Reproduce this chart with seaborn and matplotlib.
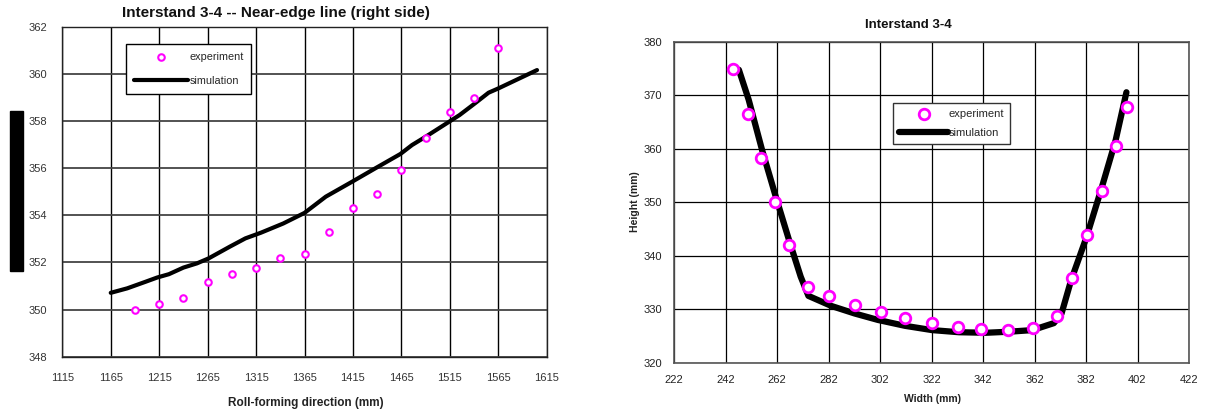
import matplotlib
matplotlib.use("Agg")
import matplotlib.pyplot as plt
from matplotlib.patches import Rectangle
import numpy as np
import pandas as pd
import seaborn as sns

# ---------------- data: left chart ----------------
left_exp_x = [1190, 1215, 1240, 1265, 1290, 1315, 1340, 1365, 1390, 1415,
              1440, 1465, 1490, 1515, 1540, 1565]
left_exp_y = [350.00, 350.25, 350.50, 351.18, 351.52, 351.77, 352.20, 352.37,
              353.30, 354.32, 354.91, 355.93, 357.29, 358.39, 358.99, 361.11]
left_sim_x = [1165, 1182, 1201, 1213, 1225, 1240, 1254, 1266, 1288, 1304, 1320,
              1343, 1365, 1387, 1414, 1438, 1464, 1476, 1490, 1517, 1525, 1541,
              1555, 1565, 1605]
left_sim_y = [350.71, 350.90, 351.18, 351.36, 351.50, 351.78, 351.96, 352.17,
              352.67, 353.02, 353.26, 353.65, 354.10, 354.79, 355.42, 355.99,
              356.60, 356.98, 357.33, 358.04, 358.25, 358.75, 359.20, 359.38,
              360.16]
left_xticks = [1115, 1165, 1215, 1265, 1315, 1365, 1415, 1465, 1515, 1565, 1615]
left_yticks = [348, 350, 352, 354, 356, 358, 360, 362]

# ---------------- data: right chart ----------------
right_exp_x = [245.1, 250.7, 255.9, 261.3, 266.6, 273.9, 282.3, 292.4, 302.3,
               311.7, 322.2, 332.1, 341.4, 351.9, 361.5, 370.7, 376.5, 382.5,
               388.1, 393.5, 398.1]
right_exp_y = [374.9, 366.5, 358.3, 350.0, 342.0, 334.1, 332.4, 330.8, 329.5,
               328.4, 327.4, 326.7, 326.3, 326.2, 326.4, 328.7, 335.9, 343.8,
               352.2, 360.6, 367.9]
right_sim_x = [247.2, 251.0, 256.2, 261.5, 266.7, 271.2, 274.2, 283.2, 292.2,
               301.2, 311.7, 322.2, 332.7, 343.2, 352.2, 361.2, 369.5, 372.5,
               376.2, 382.2, 388.2, 393.5, 397.7]
right_sim_y = [374.8, 369.2, 359.8, 351.1, 342.9, 336.1, 332.5, 330.6, 329.2,
               328.0, 326.9, 326.1, 325.7, 325.6, 325.8, 326.1, 327.4, 329.2,
               335.4, 343.5, 352.9, 361.6, 370.6]
right_xticks = [222, 242, 262, 282, 302, 322, 342, 362, 382, 402, 422]
right_yticks = [320, 330, 340, 350, 360, 370, 380]

MAGENTA = "#FF00FF"

sns.set_style("white")
plt.rcParams['font.family'] = ['Liberation Sans', 'DejaVu Sans']

W, H = 1206, 412
fig = plt.figure(figsize=(W / 100, H / 100), dpi=100)

# ================= LEFT CHART =================
axL = fig.add_axes([62.3 / W, 1 - 356.7 / H, 484.4 / W, 330 / H])
sns.scatterplot(x=left_exp_x, y=left_exp_y, ax=axL, marker='o', s=22,
                facecolor='white', edgecolor=MAGENTA, linewidth=1.5,
                label='experiment', zorder=4)
sns.lineplot(x=left_sim_x, y=left_sim_y, ax=axL, color='black', lw=3.0,
             sort=False, estimator=None, label='simulation', zorder=3)
axL.set_xlim(1115, 1615)
axL.set_ylim(348, 362)
axL.set_xticks(left_xticks)
axL.set_yticks(left_yticks)
axL.xaxis.grid(True, color='black', lw=1.0)
axL.yaxis.grid(True, color='#444444', lw=1.3)
axL.set_axisbelow(True)
for sp in axL.spines.values():
    sp.set_visible(True)
    sp.set_color('#222222')
    sp.set_linewidth(1.0)
axL.tick_params(axis='both', labelsize=8, labelcolor='#333333',
                length=2, color='#333333')
axL.tick_params(axis='x', pad=10)
axL.tick_params(axis='y', pad=9)
axL.set_xlabel('')
axL.set_ylabel('')
leg = axL.legend(loc='upper left', bbox_to_anchor=(0.1315, 0.9467),
                 borderaxespad=0, frameon=True, fancybox=False,
                 edgecolor='black', framealpha=1, handlelength=5.0,
                 handletextpad=0.15, labelspacing=1.3, fontsize=7.8,
                 borderpad=0.7)
leg.get_frame().set_linewidth(1.0)

fig.text(306 / W, 1 - 402.7 / H, 'Roll-forming direction (mm)', fontsize=8.5,
         fontweight='bold', ha='center', va='center', color='#222222')

# the black block on the left (rendered y label)
fig.patches.append(Rectangle((10 / W, 1 - 271 / H), 12.5 / W, 160 / H,
                             transform=fig.transFigure, color='black', zorder=5))
fig.text(16.2 / W, 1 - 191 / H, 'Height (mm)', rotation=90, fontsize=8,
         fontweight='bold', color='black', ha='center', va='center', zorder=6)

fig.text(276 / W, 1 - 13 / H, 'Interstand 3-4 -- Near-edge line (right side)',
         fontsize=11, fontweight='bold', ha='center', va='center', color='#111111')

# ================= RIGHT CHART =================
axR = fig.add_axes([674 / W, 1 - 362.7 / H, 515 / W, 320.7 / H])
sns.scatterplot(x=right_exp_x, y=right_exp_y, ax=axR, marker='o', s=58,
                facecolor='white', edgecolor=MAGENTA, linewidth=2.0,
                label='experiment', zorder=4)
sns.lineplot(x=right_sim_x, y=right_sim_y, ax=axR, color='black', lw=4.5,
             sort=False, estimator=None, label='simulation', zorder=3)
axR.set_xlim(222, 422)
axR.set_ylim(320, 380)
axR.set_xticks(right_xticks)
axR.set_yticks(right_yticks)
axR.grid(True, color='black', lw=0.9)
axR.set_axisbelow(True)
for sp in axR.spines.values():
    sp.set_visible(True)
    sp.set_color('#555555')
    sp.set_linewidth(1.2)
axR.tick_params(axis='both', labelsize=8, labelcolor='#222222',
                length=2.5, color='#333333')
axR.tick_params(axis='x', pad=6)
axR.tick_params(axis='y', pad=6)
axR.set_xlabel('')
axR.set_ylabel('')
legR = axR.legend(loc='upper left', bbox_to_anchor=(0.4258, 0.809),
                  borderaxespad=0, frameon=True, fancybox=False,
                  edgecolor='#333333', framealpha=1, handlelength=4.4,
                  handletextpad=0.05, labelspacing=0.75, fontsize=8,
                  borderpad=0.55)
legR.get_frame().set_linewidth(1.0)

fig.text(932 / W, 1 - 399.3 / H, 'Width (mm)', fontsize=7.5,
         fontweight='bold', ha='center', va='center', color='#222222')
fig.text(635 / W, 1 - 202 / H, 'Height (mm)', fontsize=7.5, rotation=90,
         fontweight='bold', ha='center', va='center', color='#222222')
fig.text(908.5 / W, 1 - 25.5 / H, 'Interstand 3-4', fontsize=9.5,
         fontweight='bold', ha='center', va='center', color='#111111')

fig.savefig('out.png', dpi=100, facecolor='white')
